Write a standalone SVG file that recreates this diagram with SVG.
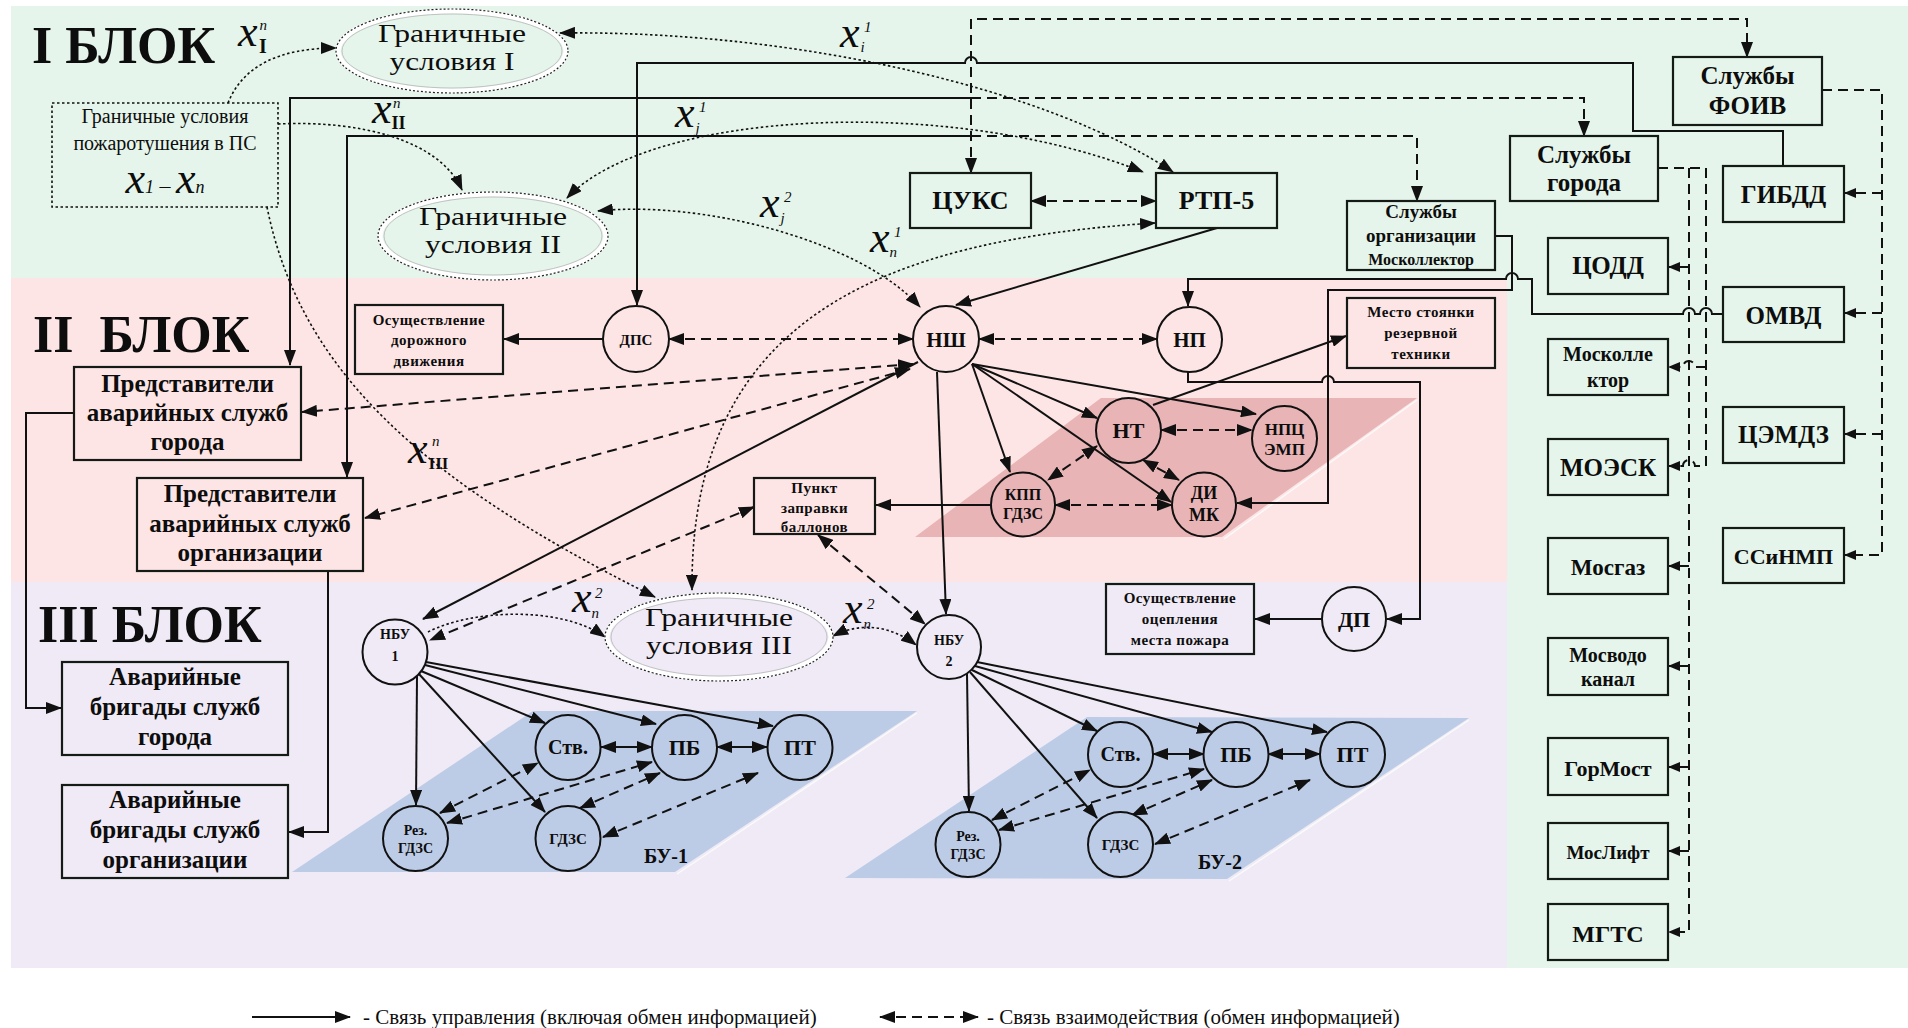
<svg xmlns="http://www.w3.org/2000/svg" width="1908" height="1028" viewBox="0 0 1908 1028">
<style>
.t{font-family:"Liberation Serif","Times New Roman",serif;fill:#0d0d0d;text-anchor:middle}
.b{font-weight:bold}
.l{text-anchor:start}
.i{font-style:italic}
.bx{fill:none;stroke:#141a16;stroke-width:2.2}
.cp{fill:#fde5e5;stroke:#111;stroke-width:2}
.cr{fill:#e8b4b6;stroke:#111;stroke-width:2}
.cb{fill:#bdcce6;stroke:#111;stroke-width:2}
.cl{fill:#efeaf5;stroke:#111;stroke-width:2}
.s{fill:none;stroke:#111;stroke-width:2}
.d{fill:none;stroke:#111;stroke-width:2;stroke-dasharray:10 6}
.o{fill:none;stroke:#111;stroke-width:1.6;stroke-dasharray:2.5 2.5}
.e{marker-end:url(#ah)}
.se{marker-start:url(#ah);marker-end:url(#ah)}
.m{marker-end:url(#sm)}
</style>
<defs>
<marker id="ah" viewBox="0 0 16 12" refX="15" refY="6" markerWidth="16" markerHeight="12" markerUnits="userSpaceOnUse" orient="auto-start-reverse"><path d="M0,0 L16,6 L0,12 z" fill="#111"/></marker>
<marker id="sm" viewBox="0 0 12 10" refX="11" refY="5" markerWidth="12" markerHeight="10" markerUnits="userSpaceOnUse" orient="auto-start-reverse"><path d="M0,0 L12,5 L0,10 z" fill="#111"/></marker>
</defs>

<g id="background">
<rect x="11" y="6" width="1897" height="272" fill="#e5f5eb"/>
<rect x="1507" y="278" width="401" height="690" fill="#e5f5eb"/>
<rect x="11" y="278" width="1496" height="304" fill="#fde5e5"/>
<rect x="11" y="582" width="1496" height="386" fill="#efeaf5"/>
<polygon points="915,537 1101,398 1417,398 1222,537" fill="#e8b4b6"/>
<polyline points="1417,400 1224,539" fill="none" stroke="#fafafa" stroke-width="1.5"/>
<polygon points="292,872 533,711 917,711 675,872" fill="#bdcce6"/>
<polyline points="917,713 677,874" fill="none" stroke="#fafafa" stroke-width="1.5"/>
<polygon points="845,878 1087,717 1469,718 1227,879" fill="#bdcce6"/>
<polyline points="1469,720 1229,881" fill="none" stroke="#fafafa" stroke-width="1.5"/>
<text x="32" y="63" class="t b l" font-size="52">I БЛОК</text>
<text x="33" y="352" class="t b l" font-size="52" style="white-space:pre">II  БЛОК</text>
<text x="38" y="642" class="t b l" font-size="52">III БЛОК</text>
</g>

<g id="connectors">
<path class="s e" d="M1783,166 V131 H1633 V63 H977 A6,6 0 0 0 965,63 H637 V305"/>
<path class="s e" d="M971,98 H290 V365"/>
<path class="s e" d="M971,136 H347 V477"/>
<path class="s e" d="M603,339 H504"/>
<path class="s e" d="M1217,228 L956,305"/>
<path class="s e" d="M972,364 L1097,418"/>
<path class="s e" d="M972,364 L1256,414"/>
<path class="s e" d="M972,364 L1010,472"/>
<path class="s e" d="M972,364 L1171,502"/>
<path class="s e" d="M937,372 L946,614"/>
<path class="s e" d="M918,362 L423,619"/>
<path class="s e" d="M1153,405 L1346,336"/>
<path class="s e" d="M991,505 H876"/>
<path class="s e" d="M1495,236 H1512 V290 H1328 V503 H1237"/>
<path class="s e" d="M1723,314 H1712 A6,6 0 0 0 1700,314 H1695 A6,6 0 0 0 1683,314 H1532 V279 H1518 A6,6 0 0 0 1506,279 H1188 V306"/>
<path class="s e" d="M1188,372 V382 H1322 A6,6 0 0 1 1334,382 H1420 V619 H1387"/>
<path class="s e" d="M1322,619 H1255"/>
<path class="s e" d="M74,413 H26 V708 H61"/>
<path class="s e" d="M328,571 V832 H289"/>
<path class="s e" d="M417,676 L416,805"/>
<path class="s e" d="M421,671 L545,723"/>
<path class="s e" d="M425,665 L656,724"/>
<path class="s e" d="M426,662 L773,726"/>
<path class="s e" d="M419,674 L545,812"/>
<path class="s e" d="M967,674 L969,811"/>
<path class="s e" d="M972,670 L1097,731"/>
<path class="s e" d="M975,666 L1212,732"/>
<path class="s e" d="M977,662 L1327,732"/>
<path class="s e" d="M970,672 L1097,818"/>
<path class="s se" d="M601,747 H652"/>
<path class="s se" d="M717,747 H767"/>
<path class="s se" d="M1153,754 H1204"/>
<path class="s se" d="M1268,754 H1320"/>
<path class="d se" d="M1031,201 H1156"/>
<path class="d se" d="M669,339 H913"/>
<path class="d se" d="M979,339 H1157"/>
<path class="d se" d="M913,364 L302,412"/>
<path class="d se" d="M910,369 L365,518"/>
<path class="d se" d="M754,507 L430,640"/>
<path class="d se" d="M818,535 L925,624"/>
<path class="d se" d="M1161,430 H1252"/>
<path class="d se" d="M1097,446 L1048,480"/>
<path class="d se" d="M1143,460 L1179,480"/>
<path class="d se" d="M1055,505 H1172"/>
<path class="d se" d="M971,173 V19 H1747 V57"/>
<path class="d e" d="M971,98 H1584 V136"/>
<path class="d e" d="M971,136 H1417 V201"/>
<path class="d se" d="M440,813 L538,763"/>
<path class="d se" d="M447,823 L652,762"/>
<path class="d se" d="M580,808 L660,773"/>
<path class="d se" d="M603,837 L758,773"/>
<path class="d se" d="M992,820 L1090,770"/>
<path class="d se" d="M999,830 L1204,769"/>
<path class="d se" d="M1132,815 L1212,780"/>
<path class="d se" d="M1155,844 L1310,780"/>
<path class="d m" d="M1658,168 H1706 V466 H1695 A6,6 0 0 0 1683,466 H1669"/>
<path class="d m" d="M1706,367 H1695 A6,6 0 0 0 1683,367 H1669"/>
<path class="d m" d="M1689,168 V932 H1669"/>
<path class="d m" d="M1689,267 H1669"/>
<path class="d m" d="M1689,566 H1669"/>
<path class="d m" d="M1689,666 H1669"/>
<path class="d m" d="M1689,767 H1669"/>
<path class="d m" d="M1689,851 H1669"/>
<path class="d m" d="M1822,90 H1882 V555 H1845"/>
<path class="d m" d="M1882,193 H1845"/>
<path class="d m" d="M1882,313 H1845"/>
<path class="d m" d="M1882,434 H1845"/>
<path class="o e" d="M228,103 Q250,48 336,48"/>
<path class="o se" d="M560,33 C800,30 1050,90 1173,172"/>
<path class="o e" d="M278,124 C360,120 440,140 462,190"/>
<path class="o se" d="M567,198 C650,110 950,95 1143,172"/>
<path class="o se" d="M598,211 C700,200 860,240 920,307"/>
<path class="o se" d="M1155,223 C880,240 690,320 692,590"/>
<path class="o e" d="M267,207 C300,370 420,480 655,597"/>
<path class="o e" d="M428,632 C470,610 560,605 605,637"/>
<path class="o se" d="M833,636 C860,622 890,625 916,645"/>
</g>

<g id="labels">
<text x="238" y="46" class="t i l" font-size="44">x<tspan font-size="15" dx="2" dy="-16">n</tspan><tspan font-size="20" font-weight="bold" font-style="normal" dx="-8" dy="23">I</tspan></text>
<text x="372" y="123" class="t i l" font-size="44">x<tspan font-size="15" dx="1.5" dy="-15">n</tspan><tspan font-size="18" font-weight="bold" font-style="normal" dx="-9" dy="21">II</tspan></text>
<text x="408" y="463" class="t i l" font-size="44">x<tspan font-size="15" dx="4.5" dy="-17">n</tspan><tspan font-size="17" font-weight="bold" font-style="normal" dx="-11" dy="23">III</tspan></text>
<text x="840" y="47" class="t i l" font-size="44">x<tspan font-size="15" dx="4.5" dy="-15">1</tspan><tspan font-size="15" dx="-11" dy="20">i</tspan></text>
<text x="675" y="127" class="t i l" font-size="44">x<tspan font-size="15" dx="4.5" dy="-15">1</tspan><tspan font-size="15" dx="-11" dy="21">j</tspan></text>
<text x="760" y="217" class="t i l" font-size="44">x<tspan font-size="15" dx="4.5" dy="-15">2</tspan><tspan font-size="15" dx="-11" dy="21">j</tspan></text>
<text x="870" y="252" class="t i l" font-size="44">x<tspan font-size="15" dx="4.5" dy="-15">1</tspan><tspan font-size="15" dx="-12" dy="20">n</tspan></text>
<text x="572" y="612" class="t i l" font-size="44">x<tspan font-size="15" dx="3.5" dy="-14">2</tspan><tspan font-size="15" dx="-11" dy="20">n</tspan></text>
<text x="843" y="623" class="t i l" font-size="44">x<tspan font-size="15" dx="4.5" dy="-14">2</tspan><tspan font-size="15" dx="-11" dy="20">n</tspan></text>
</g>

<g id="bc-source">
<rect x="52" y="103" width="226" height="104" fill="none" stroke="#111" stroke-width="1.6" stroke-dasharray="2.5 2.5"/>
<text x="165" y="123" class="t" font-size="20">Граничные условия<tspan x="165" dy="27">пожаротушения в ПС</tspan></text>
<text x="165" y="193" class="t i" font-size="44">x<tspan font-size="18">1</tspan><tspan font-size="22" font-style="normal"> – </tspan>x<tspan font-size="18">n</tspan></text>
</g>

<g id="bc1">
<ellipse cx="452" cy="51" rx="114" ry="40" fill="#e5f5eb" stroke="#fff" stroke-width="5"/>
<ellipse cx="452" cy="51" rx="110" ry="37" fill="none" stroke="#b5b5b5" stroke-width="0.8"/>
<ellipse cx="452" cy="51" rx="116" ry="42" fill="none" stroke="#222" stroke-width="1.2" stroke-dasharray="2 2"/>
<text x="452" y="42" class="t" font-size="25"><tspan x="452" textLength="148" lengthAdjust="spacingAndGlyphs">Граничные</tspan><tspan x="452" dy="28" textLength="125" lengthAdjust="spacingAndGlyphs">условия I</tspan></text>
</g>
<g id="bc2">
<ellipse cx="493" cy="236" rx="113" ry="42" fill="#e5f5eb" stroke="#fff" stroke-width="5"/>
<ellipse cx="493" cy="236" rx="109" ry="39" fill="none" stroke="#b5b5b5" stroke-width="0.8"/>
<ellipse cx="493" cy="236" rx="115" ry="44" fill="none" stroke="#222" stroke-width="1.2" stroke-dasharray="2 2"/>
<text x="493" y="225" class="t" font-size="25"><tspan x="493" textLength="148" lengthAdjust="spacingAndGlyphs">Граничные</tspan><tspan x="493" dy="28" textLength="136" lengthAdjust="spacingAndGlyphs">условия II</tspan></text>
</g>
<g id="bc3">
<ellipse cx="719" cy="637" rx="112" ry="42" fill="#efeaf5" stroke="#fff" stroke-width="5"/>
<ellipse cx="719" cy="637" rx="108" ry="39" fill="none" stroke="#b5b5b5" stroke-width="0.8"/>
<ellipse cx="719" cy="637" rx="114" ry="44" fill="none" stroke="#222" stroke-width="1.2" stroke-dasharray="2 2"/>
<text x="719" y="626" class="t" font-size="25"><tspan x="719" textLength="148" lengthAdjust="spacingAndGlyphs">Граничные</tspan><tspan x="719" dy="28" textLength="146" lengthAdjust="spacingAndGlyphs">условия III</tspan></text>
</g>

<g id="cuks"><rect x="910" y="173" width="121" height="55" class="bx"/><text x="970.5" y="209" class="t b" font-size="26">ЦУКС</text></g>
<g id="rtp5"><rect x="1156" y="173" width="121" height="55" class="bx"/><text x="1216.5" y="209" class="t b" font-size="26">РТП-5</text></g>
<g id="sl-org"><rect x="1347" y="201" width="148" height="69" class="bx"/>
<text x="1421" y="218" class="t b" font-size="19">Службы<tspan x="1421" dy="24">организации</tspan><tspan x="1421" dy="23" font-size="16">Москоллектор</tspan></text></g>
<g id="sl-city"><rect x="1510" y="136" width="148" height="65" class="bx"/>
<text x="1584" y="163" class="t b" font-size="25">Службы<tspan x="1584" dy="28">города</tspan></text></g>
<g id="sl-foiv"><rect x="1673" y="57" width="149" height="68" class="bx"/>
<text x="1747.5" y="84" class="t b" font-size="25">Службы<tspan x="1747.5" dy="30">ФОИВ</tspan></text></g>
<g id="gibdd"><rect x="1723" y="166" width="121" height="56" class="bx"/><text x="1783.5" y="203" class="t b" font-size="25">ГИБДД</text></g>
<g id="codd"><rect x="1548" y="238" width="120" height="56" class="bx"/><text x="1608" y="274" class="t b" font-size="25">ЦОДД</text></g>
<g id="omvd"><rect x="1723" y="287" width="121" height="55" class="bx"/><text x="1783.5" y="324" class="t b" font-size="25">ОМВД</text></g>
<g id="moskol"><rect x="1548" y="339" width="120" height="56" class="bx"/><text x="1608" y="361" class="t b" font-size="20">Москолле<tspan x="1608" dy="26">ктор</tspan></text></g>
<g id="cemdz"><rect x="1723" y="407" width="121" height="56" class="bx"/><text x="1783.5" y="443" class="t b" font-size="25">ЦЭМДЗ</text></g>
<g id="moesk"><rect x="1548" y="439" width="120" height="56" class="bx"/><text x="1608" y="476" class="t b" font-size="25">МОЭСК</text></g>
<g id="ssinmp"><rect x="1723" y="528" width="121" height="55" class="bx"/><text x="1783.5" y="564" class="t b" font-size="22">ССиНМП</text></g>
<g id="mosgaz"><rect x="1548" y="538" width="120" height="56" class="bx"/><text x="1608" y="575" class="t b" font-size="23">Мосгаз</text></g>
<g id="mosvodokanal"><rect x="1548" y="638" width="120" height="57" class="bx"/><text x="1608" y="662" class="t b" font-size="20">Мосводо<tspan x="1608" dy="24">канал</tspan></text></g>
<g id="gormost"><rect x="1548" y="738" width="120" height="57" class="bx"/><text x="1608" y="776" class="t b" font-size="22">ГорМост</text></g>
<g id="moslift"><rect x="1548" y="823" width="120" height="56" class="bx"/><text x="1608" y="859" class="t b" font-size="19">МосЛифт</text></g>
<g id="mgts"><rect x="1548" y="904" width="120" height="56" class="bx"/><text x="1608" y="942" class="t b" font-size="24">МГТС</text></g>

<g id="road"><rect x="355" y="305" width="148" height="69" class="bx" stroke-width="2.8"/>
<text x="429" y="325" class="t b" font-size="15" letter-spacing="0.5">Осуществление<tspan x="429" dy="20">дорожного</tspan><tspan x="429" dy="21">движения</tspan></text></g>
<g id="rep-city"><rect x="74" y="367" width="227" height="93" class="bx"/>
<text x="187.5" y="392" class="t b" font-size="25">Представители<tspan x="187.5" dy="29">аварийных служб</tspan><tspan x="187.5" dy="29">города</tspan></text></g>
<g id="rep-org"><rect x="137" y="478" width="226" height="93" class="bx"/>
<text x="250" y="502" class="t b" font-size="25">Представители<tspan x="250" dy="30">аварийных служб</tspan><tspan x="250" dy="29">организации</tspan></text></g>
<g id="brig-city"><rect x="62" y="662" width="226" height="93" class="bx"/>
<text x="175" y="685" class="t b" font-size="25">Аварийные<tspan x="175" dy="30">бригады служб</tspan><tspan x="175" dy="30">города</tspan></text></g>
<g id="brig-org"><rect x="62" y="785" width="226" height="93" class="bx"/>
<text x="175" y="808" class="t b" font-size="25">Аварийные<tspan x="175" dy="30">бригады служб</tspan><tspan x="175" dy="30">организации</tspan></text></g>
<g id="reserve"><rect x="1347" y="298" width="148" height="70" class="bx"/>
<text x="1421" y="317" class="t b" font-size="15" letter-spacing="0.5">Место стоянки<tspan x="1421" dy="21">резервной</tspan><tspan x="1421" dy="21">техники</tspan></text></g>
<g id="refuel"><rect x="754" y="478" width="121" height="56" class="bx"/>
<text x="814.5" y="493" class="t b" font-size="15" letter-spacing="0.5">Пункт<tspan x="814.5" dy="20">заправки</tspan><tspan x="814.5" dy="19">баллонов</tspan></text></g>
<g id="cordon"><rect x="1106" y="584" width="148" height="70" class="bx"/>
<text x="1180" y="603" class="t b" font-size="15" letter-spacing="0.5">Осуществление<tspan x="1180" dy="21">оцепления</tspan><tspan x="1180" dy="21">места пожара</tspan></text></g>

<g id="dps"><circle cx="636" cy="339" r="33" class="cp"/><text x="636" y="345" class="t b" font-size="15">ДПС</text></g>
<g id="nsh"><circle cx="946" cy="339" r="33" class="cp"/><text x="946" y="347" class="t b" font-size="21">НШ</text></g>
<g id="np"><circle cx="1189.5" cy="339.5" r="32.5" class="cp"/><text x="1189.5" y="347" class="t b" font-size="21">НП</text></g>
<g id="nt"><circle cx="1128.5" cy="430.5" r="32.5" class="cr"/><text x="1128.5" y="438" class="t b" font-size="22">НТ</text></g>
<g id="npc"><circle cx="1284.5" cy="438.5" r="32.5" class="cr"/><text x="1284.5" y="435" class="t b" font-size="17">НПЦ<tspan x="1284.5" dy="20">ЭМП</tspan></text></g>
<g id="kpp"><circle cx="1023" cy="504.5" r="32" class="cr"/><text x="1023" y="500" class="t b" font-size="16">КПП<tspan x="1023" dy="19">ГДЗС</tspan></text></g>
<g id="dimk"><circle cx="1204" cy="504.5" r="32" class="cr"/><text x="1204" y="499" class="t b" font-size="18">ДИ<tspan x="1204" dy="22">МК</tspan></text></g>
<g id="dp"><circle cx="1354" cy="619" r="32" class="cl"/><text x="1354" y="627" class="t b" font-size="22">ДП</text></g>
<g id="nbu1"><circle cx="395" cy="652" r="32.5" class="cl"/><text x="395" y="639" class="t b" font-size="14">НБУ<tspan x="395" dy="22">1</tspan></text></g>
<g id="nbu2"><circle cx="949" cy="647" r="32" class="cl"/><text x="949" y="645" class="t b" font-size="14">НБУ<tspan x="949" dy="21">2</tspan></text></g>

<g id="bu1">
<text x="666" y="863" class="t b" font-size="20">БУ-1</text>
<g id="bu1-stv"><circle cx="568" cy="747.5" r="32.5" class="cb"/><text x="568" y="754" class="t b" font-size="20">Ств.</text></g>
<g id="bu1-pb"><circle cx="684.5" cy="747.5" r="32.5" class="cb"/><text x="684.5" y="755" class="t b" font-size="22">ПБ</text></g>
<g id="bu1-pt"><circle cx="800" cy="747.5" r="32.5" class="cb"/><text x="800" y="755" class="t b" font-size="22">ПТ</text></g>
<g id="bu1-gdzs"><circle cx="568" cy="838.5" r="32.5" class="cb"/><text x="568" y="844" class="t b" font-size="15">ГДЗС</text></g>
<g id="bu1-rez"><circle cx="415.5" cy="838.5" r="32.5" class="cb"/><text x="415.5" y="835" class="t b" font-size="14">Рез.<tspan x="415.5" dy="18">ГДЗС</tspan></text></g>
</g>
<g id="bu2">
<text x="1220" y="869" class="t b" font-size="20">БУ-2</text>
<g id="bu2-stv"><circle cx="1120.5" cy="754.5" r="32.5" class="cb"/><text x="1120.5" y="761" class="t b" font-size="20">Ств.</text></g>
<g id="bu2-pb"><circle cx="1236" cy="754.5" r="32.5" class="cb"/><text x="1236" y="762" class="t b" font-size="22">ПБ</text></g>
<g id="bu2-pt"><circle cx="1352.5" cy="754.5" r="32.5" class="cb"/><text x="1352.5" y="762" class="t b" font-size="22">ПТ</text></g>
<g id="bu2-gdzs"><circle cx="1120.5" cy="844.5" r="32.5" class="cb"/><text x="1120.5" y="850" class="t b" font-size="15">ГДЗС</text></g>
<g id="bu2-rez"><circle cx="968" cy="844.5" r="32.5" class="cb"/><text x="968" y="841" class="t b" font-size="14">Рез.<tspan x="968" dy="18">ГДЗС</tspan></text></g>
</g>

<g id="legend">
<path class="s e" d="M252,1017 H350"/>
<text x="363" y="1024" class="t l" font-size="21">- Связь управления (включая обмен информацией)</text>
<path class="d se" d="M880,1017 H978"/>
<text x="987" y="1024" class="t l" font-size="21">- Связь взаимодействия (обмен информацией)</text>
</g>
</svg>
